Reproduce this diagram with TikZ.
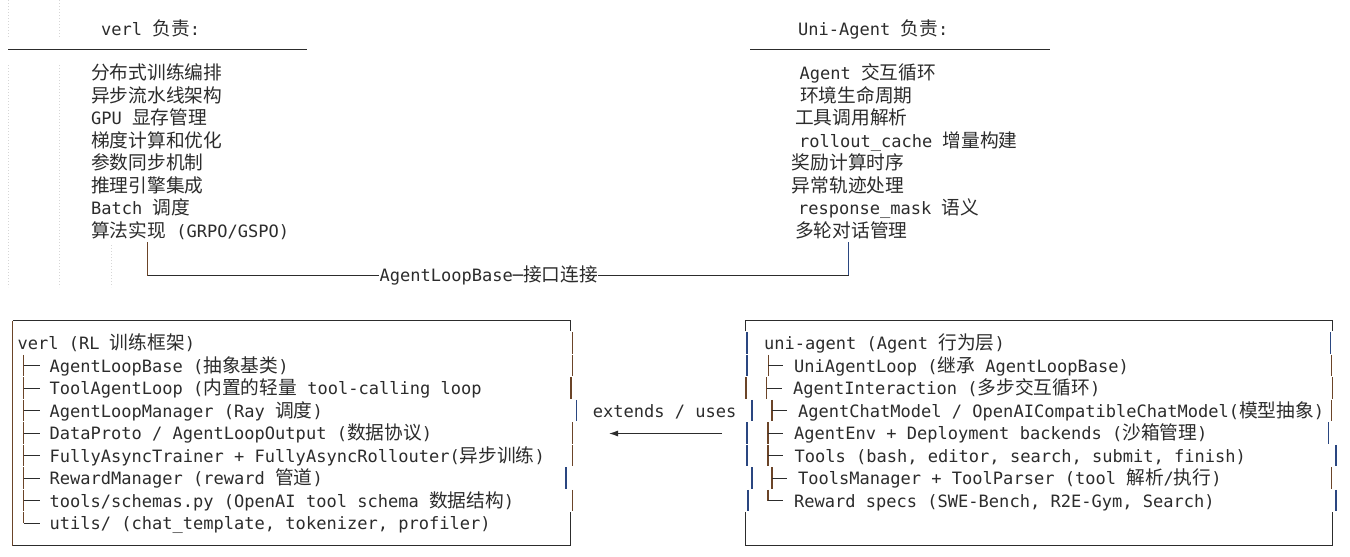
\documentclass[tikz,border=0pt]{standalone}
\usepackage{fontspec}
\setmonofont{DejaVu Sans Mono}
\newfontfamily\cjk{Noto Sans CJK SC}[Scale=1.099]
\usepackage{xcolor}
\usepackage{tikz}
\usetikzlibrary{calc}
\usetikzlibrary{arrows.meta}
\definecolor{ink}{HTML}{2C2C2C}
\definecolor{edgeO}{HTML}{6B4428}
\definecolor{edgeB}{HTML}{2A4680}
\definecolor{guide}{HTML}{D6D6D6}
\newcommand{\zh}[1]{{\cjk #1}}

\begin{document}
\begin{tikzpicture}[x=1pt,y=-1pt]%% verl / uni-agent
                \tikzstyle{txt}  = [font=\ttfamily\fontsize{17.03}{20}\selectfont, text=ink, inner sep=0pt, anchor=base west]
                \tikzstyle{rule} = [draw=ink, line width=1pt]
                \tikzstyle{bar}  = [line width=1.2pt]
                \tikzstyle{guideline} = [draw=guide, line width=0.8pt, dash pattern=on 1pt off 2pt]
                \fill[white] (0,0) rectangle (1350,557);
                \useasboundingbox (0,0) rectangle (1350,557);

                % indent guides
                \foreach \x in {8.3,59.3}{
                        \draw[guideline] (\x,0)--(\x,38);
                        \draw[guideline] (\x,65)--(\x,287);
                }
                \draw[guideline] (111.7,245)--(111.7,287);

                % two lists on top
                \node [txt](hv) at (101,35) {verl \zh{负责}:};
                \node [txt](hu) at (798,35) {Uni-Agent \zh{负责}:};
                \draw[rule] (8,49.3)--(307,49.3);
                \draw[rule] (750,49.3)--(1050,49.3);

                \foreach \t [count=\i] in {{\zh{分布式训练编排}},{\zh{异步流水线架构}},{GPU \zh{显存管理}},{\zh{梯度计算和优化}},{\zh{参数同步机制}},{\zh{推理引擎集成}},{Batch \zh{调度}},{\zh{算法实现} (GRPO/GSPO)}}
                        \node [txt](l\i) at (91,{79.5+22.5*(\i-1)}) {\t};
                \foreach \x/\t [count=\i] in {799.3/{Agent \zh{交互循环}},800/{\zh{环境生命周期}},795/{\zh{工具调用解析}},799/{rollout\_cache \zh{增量构建}},791.7/{\zh{奖励计算时序}},791.7/{\zh{异常轨迹处理}},798/{response\_mask \zh{语义}},795/{\zh{多轮对话管理}}}
                        \node [txt](r\i) at (\x,{79.5+22.5*(\i-1)}) {\t};

                \node [txt](link) at (379.3,281.5) {AgentLoopBase─\zh{接口连接}};
                \coordinate (cl) at (147.5,242);
                \coordinate (cr) at (848.5,242);
                \coordinate (jl) at ($(link.base west)+(0,-6)$);
                \coordinate (jr) at ($(link.base east)+(0,-6)$);
                \draw[bar, draw=edgeO] (cl)--(cl |- jl);
                \draw[bar, draw=edgeB] (cr)--(cr |- jr);
                \draw[rule] (cl |- jl)--(jl);
                \draw[rule] (jr)--(cr |- jr);

                % left box
                \draw[rule] (570,331.2)--(570,320.5)--(12.5,320.5);
                \draw[bar, draw=edgeO] (12.5,320.5)--(12.5,545.5);
                \draw[rule] (12.5,545.5)--(570,545.5)--(570,511.9);
                \foreach \i/\x/\c in {1/572.3/edgeO,2/572.3/edgeO,3/571/edgeO,4/576.5/edgeB,5/572.3/edgeO,6/572.3/edgeO,7/566/edgeB,8/572.7/edgeO}
                        \draw[bar, draw=\c] (\x,{320.5+22.5*\i-10.6})--(\x,{320.5+22.5*\i+10.6});

                \node [txt](b1) at (17.5,349.5) {verl (RL \zh{训练框架})};
                \foreach \t [count=\i from 2] in {{AgentLoopBase (\zh{抽象基类})},{ToolAgentLoop (\zh{内置的轻量} tool-calling loop},{AgentLoopManager (Ray \zh{调度})},{DataProto / AgentLoopOutput (\zh{数据协议})},{FullyAsyncTrainer + FullyAsyncRollouter(\zh{异步训练})},{RewardManager (reward \zh{管道})},{tools/schemas.py (OpenAI tool schema \zh{数据结构})},{utils/ (chat\_template, tokenizer, profiler)}}
                        \node [txt](b\i) at (49.5,{327+22.5*\i}) {\t};
                \foreach \i in {2,...,8}{
                        \draw[bar, draw=edgeO] (23.5,{320.5+22.5*\i-10.6})--(23.5,{320.5+22.5*\i+10.6});
                        \draw[rule] (23.5,{320.5+22.5*\i})--(39.5,{320.5+22.5*\i});
                }
                \draw[bar, draw=edgeO] (23.5,{320.5+22.5*9-10.6})--(23.5,{320.5+22.5*9});
                \draw[rule] (23.5,{320.5+22.5*9})--(39.5,{320.5+22.5*9});

                % middle
                \node [txt](ext) at (592.7,417) {extends / uses};
                \coordinate (aR) at (722,433.5);
                \coordinate (aL) at (609,433.5);
                \draw[rule, -{Latex[length=9pt,width=6pt]}] (aR)--(aL);

                % right box
                \draw[rule] (745,331.2)--(745,320.5)--(1332.7,320.5)--(1332.7,331.2);
                \draw[rule] (745,511.9)--(745,545.5)--(1332.7,545.5)--(1332.7,511.9);
                \foreach \i/\x/\c in {1/747/edgeB,2/747/edgeB,3/746/edgeO,4/752/edgeB,5/747/edgeB,6/747/edgeB,7/752/edgeB,8/748/edgeB}
                        \draw[bar, draw=\c] (\x,{320.5+22.5*\i-10.6})--(\x,{320.5+22.5*\i+10.6});
                \foreach \i/\x/\c in {1/1330.7/edgeB,2/1331.7/edgeO,3/1332.7/edgeO,4/1331.7/edgeO,5/1328.3/edgeB,6/1336/edgeB,7/1331.7/edgeO,8/1336/edgeB}
                        \draw[bar, draw=\c] (\x,{320.5+22.5*\i-10.6})--(\x,{320.5+22.5*\i+10.6});

                \foreach \x/\t [count=\i] in {764/{uni-agent (Agent \zh{行为层})},794/{UniAgentLoop (\zh{继承} AgentLoopBase)},793/{AgentInteraction (\zh{多步交互循环})},798/{AgentChatModel / OpenAICompatibleChatModel(\zh{模型抽象})},794/{AgentEnv + Deployment backends (\zh{沙箱管理})},794.5/{Tools (bash, editor, search, submit, finish)},798/{ToolsManager + ToolParser (tool \zh{解析}/\zh{执行})},794/{Reward specs (SWE-Bench, R2E-Gym, Search)}}
                        \node [txt](a\i) at (\x,{327+22.5*\i}) {\t};
                \foreach \i/\x in {2/768.3,3/766.7,4/772,5/768,6/768,7/772}{
                        \draw[bar, draw=edgeO] (\x,{320.5+22.5*\i-10.6})--(\x,{320.5+22.5*\i+10.6});
                        \draw[rule] (\x,{320.5+22.5*\i})--(\x+15,{320.5+22.5*\i});
                }
                \draw[bar, draw=edgeO] (768,{320.5+22.5*8-10.6})--(768,{320.5+22.5*8});
                \draw[rule] (768,{320.5+22.5*8})--(783,{320.5+22.5*8});
\end{tikzpicture}
\end{document}
